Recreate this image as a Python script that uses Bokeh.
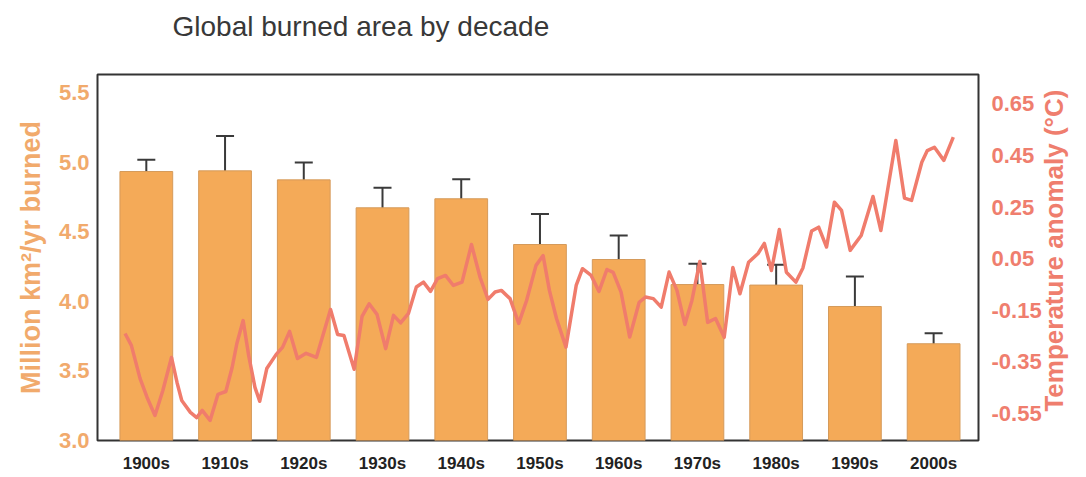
import math
from bokeh.plotting import figure
from bokeh.models import (Range1d, LinearAxis, FixedTicker, NumeralTickFormatter,
                          ColumnDataSource, Whisker, TeeHead, Title)
from bokeh.embed import file_html
from bokeh.resources import INLINE

# ---------------- data ----------------
DECADES = ["1900s", "1910s", "1920s", "1930s", "1940s", "1950s",
           "1960s", "1970s", "1980s", "1990s", "2000s"]
BURNED = [4.935, 4.94, 4.875, 4.674, 4.739, 4.41, 4.302, 4.122, 4.118, 3.964, 3.696]
ERR_LOW = [4.82, 4.68, 4.746, 4.52, 4.583, 4.228, 4.146, 3.99, 3.988, 3.768, 3.624]
ERR_HIGH = [5.02, 5.19, 5.0, 4.818, 4.88, 4.63, 4.475, 4.271, 4.264, 4.18, 3.772]

TEMP_YEAR = [1902.3, 1903.1, 1904.2, 1905.1, 1906.1, 1907.1, 1908.2, 1908.9, 1909.5, 1910.6,
             1911.4, 1912.1, 1913.1, 1914.1, 1915.1, 1915.9, 1916.5, 1917.3, 1918.0, 1918.8,
             1919.4, 1920.3, 1921.5, 1922.3, 1923.2, 1924.2, 1925.3, 1926.6, 1928.4, 1929.3,
             1930.1, 1931.4, 1932.4, 1933.3, 1934.3, 1935.4, 1936.4, 1937.3, 1938.3, 1939.3,
             1940.2, 1941.1, 1942.0, 1943.0, 1944.0, 1945.1, 1946.3, 1947.4, 1948.4, 1949.3,
             1950.1, 1951.2, 1952.3, 1953.3, 1954.5, 1955.4, 1956.2, 1957.1, 1958.3, 1959.6,
             1960.4, 1961.5, 1962.5, 1963.5, 1964.3, 1965.3, 1966.4, 1967.6, 1968.4, 1969.4,
             1970.4, 1971.4, 1972.4, 1973.4, 1974.3, 1975.3, 1976.3, 1977.3, 1978.4, 1979.5,
             1980.4, 1981.5, 1982.7, 1983.5, 1984.4, 1985.4, 1986.3, 1987.5, 1988.4, 1989.5,
             1990.4, 1991.4, 1992.4, 1993.3, 1994.4, 1995.8, 1997.3, 1998.3, 2000.2, 2001.3,
             2002.2, 2003.5, 2004.2, 2005.1, 2006.3, 2007.5]
TEMP_ANOM = [-0.240, -0.286, -0.414, -0.488, -0.558, -0.461, -0.333, -0.430, -0.500, -0.546,
             -0.566, -0.538, -0.577, -0.476, -0.465, -0.372, -0.279, -0.190, -0.325, -0.449,
             -0.503, -0.376, -0.321, -0.294, -0.232, -0.337, -0.317, -0.333, -0.147, -0.244,
             -0.248, -0.379, -0.174, -0.125, -0.166, -0.299, -0.170, -0.199, -0.162, -0.060,
             -0.041, -0.077, -0.027, -0.015, -0.054, -0.041, 0.105, -0.023, -0.108, -0.079,
             -0.073, -0.105, -0.201, -0.112, 0.024, 0.062, -0.073, -0.182, -0.293, -0.054,
             0.011, -0.015, -0.077, 0.008, -0.003, -0.080, -0.254, -0.119, -0.099, -0.105,
             -0.138, -0.002, -0.073, -0.205, -0.112, 0.039, -0.197, -0.182, -0.255, 0.016,
             -0.086, 0.036, 0.070, 0.109, 0.004, 0.163, -0.003, -0.041, 0.014, 0.157,
             0.172, 0.095, 0.269, 0.237, 0.082, 0.140, 0.291, 0.159, 0.508, 0.285,
             0.276, 0.424, 0.469, 0.482, 0.431, 0.521]

LEFT_TICKS = [3.0, 3.5, 4.0, 4.5, 5.0, 5.5]
RIGHT_TICKS = [-0.55, -0.35, -0.15, 0.05, 0.25, 0.45, 0.65]

TITLE = "Global burned area by decade"
LEFT_LABEL = "Million km²/yr burned"
RIGHT_LABEL = "Temperature anomaly (°C)"

# decade mid-years as bar positions
DEC_X = [int(d[:4]) + 5 for d in DECADES]

FONT = "Liberation Sans"
BAR_COLOR = "#F4AA58"
LEFT_COLOR = "#F1AA6C"
RIGHT_COLOR = "#EF7E6E"
LINE_COLOR = "#F07C6C"

p = figure(width=1086, height=477,
           x_range=Range1d(1898.8, 2010.7), y_range=Range1d(3.0, 5.633),
           output_backend="svg", toolbar_location=None,
           min_border_left=97, min_border_right=103, min_border_top=74, min_border_bottom=37)
p.extra_y_ranges = {"temp": Range1d(-0.655, 0.764)}

p.background_fill_color = "white"
p.border_fill_color = "white"
p.outline_line_color = "#333333"
p.outline_line_width = 2
p.xgrid.visible = False
p.ygrid.visible = False

# title: an invisible spacer next to the frame, then the real title above it
p.add_layout(Title(text=" ", text_font_size="2px", standoff=29, text_color="white"), "above")
p.add_layout(Title(text=TITLE, text_font=FONT, text_font_size="28px",
                   text_font_style="normal", text_color="#383838",
                   align="left", offset=75, standoff=0), "above")

src = ColumnDataSource(dict(x=DEC_X, top=BURNED, lower=ERR_LOW, upper=ERR_HIGH))
p.vbar(x="x", top="top", width=6.7, source=src, fill_color=BAR_COLOR,
       line_color="#D59A5A", line_width=1)

p.line(TEMP_YEAR, TEMP_ANOM, y_range_name="temp", line_color=LINE_COLOR,
       line_width=3.5, line_join="round")

w = Whisker(source=src, base="x", upper="upper", lower="lower",
            line_color="#3a3a3a", line_width=2,
            upper_head=TeeHead(size=18, line_color="#3a3a3a", line_width=2),
            lower_head=TeeHead(size=18, line_color="#3a3a3a", line_width=2))
p.add_layout(w)

# x axis
xa = p.xaxis[0]
xa.ticker = FixedTicker(ticks=DEC_X)
xa.major_label_overrides = {x: d for x, d in zip(DEC_X, DECADES)}
xa.axis_line_color = None
xa.major_tick_line_color = None
xa.minor_tick_line_color = None
xa.major_label_text_font = FONT
xa.major_label_text_font_size = "17px"
xa.major_label_text_font_style = "bold"
xa.major_label_text_color = "#222222"
xa.major_label_standoff = 7

# left axis
ya = p.yaxis[0]
ya.ticker = FixedTicker(ticks=LEFT_TICKS)
ya.formatter = NumeralTickFormatter(format="0.0")
ya.axis_line_color = None
ya.major_tick_line_color = None
ya.minor_tick_line_color = None
ya.major_label_text_font = FONT
ya.major_label_text_font_size = "22px"
ya.major_label_text_font_style = "bold"
ya.major_label_text_color = LEFT_COLOR
ya.major_label_standoff = 2
ya.axis_label = LEFT_LABEL
ya.axis_label_text_font = FONT
ya.axis_label_text_font_size = "27px"
ya.axis_label_text_font_style = "bold"
ya.axis_label_text_color = LEFT_COLOR
ya.axis_label_standoff = 10

# right axis (title reads bottom-to-top as in the original)
ra = LinearAxis(y_range_name="temp", ticker=FixedTicker(ticks=RIGHT_TICKS),
                formatter=NumeralTickFormatter(format="0.00"))
ra.axis_line_color = None
ra.major_tick_line_color = None
ra.minor_tick_line_color = None
ra.major_label_text_font = FONT
ra.major_label_text_font_size = "22px"
ra.major_label_text_font_style = "bold"
ra.major_label_text_color = RIGHT_COLOR
ra.major_label_standoff = 7
# non-breaking spaces lift the start of the rotated title off the frame's bottom
ra.axis_label = "\u00a0\u00a0\u00a0\u00a0" + RIGHT_LABEL
ra.axis_label_text_font = FONT
ra.axis_label_text_font_size = "26px"
ra.axis_label_text_font_style = "bold"
ra.axis_label_text_color = RIGHT_COLOR
ra.axis_label_text_line_height = 1.0
ra.axis_label_standoff = 9
ra.axis_label_orientation = math.pi / 2
ra.axis_label_align = "start"
p.add_layout(ra, "right")

open("out.html", "w").write(file_html(p, INLINE))
